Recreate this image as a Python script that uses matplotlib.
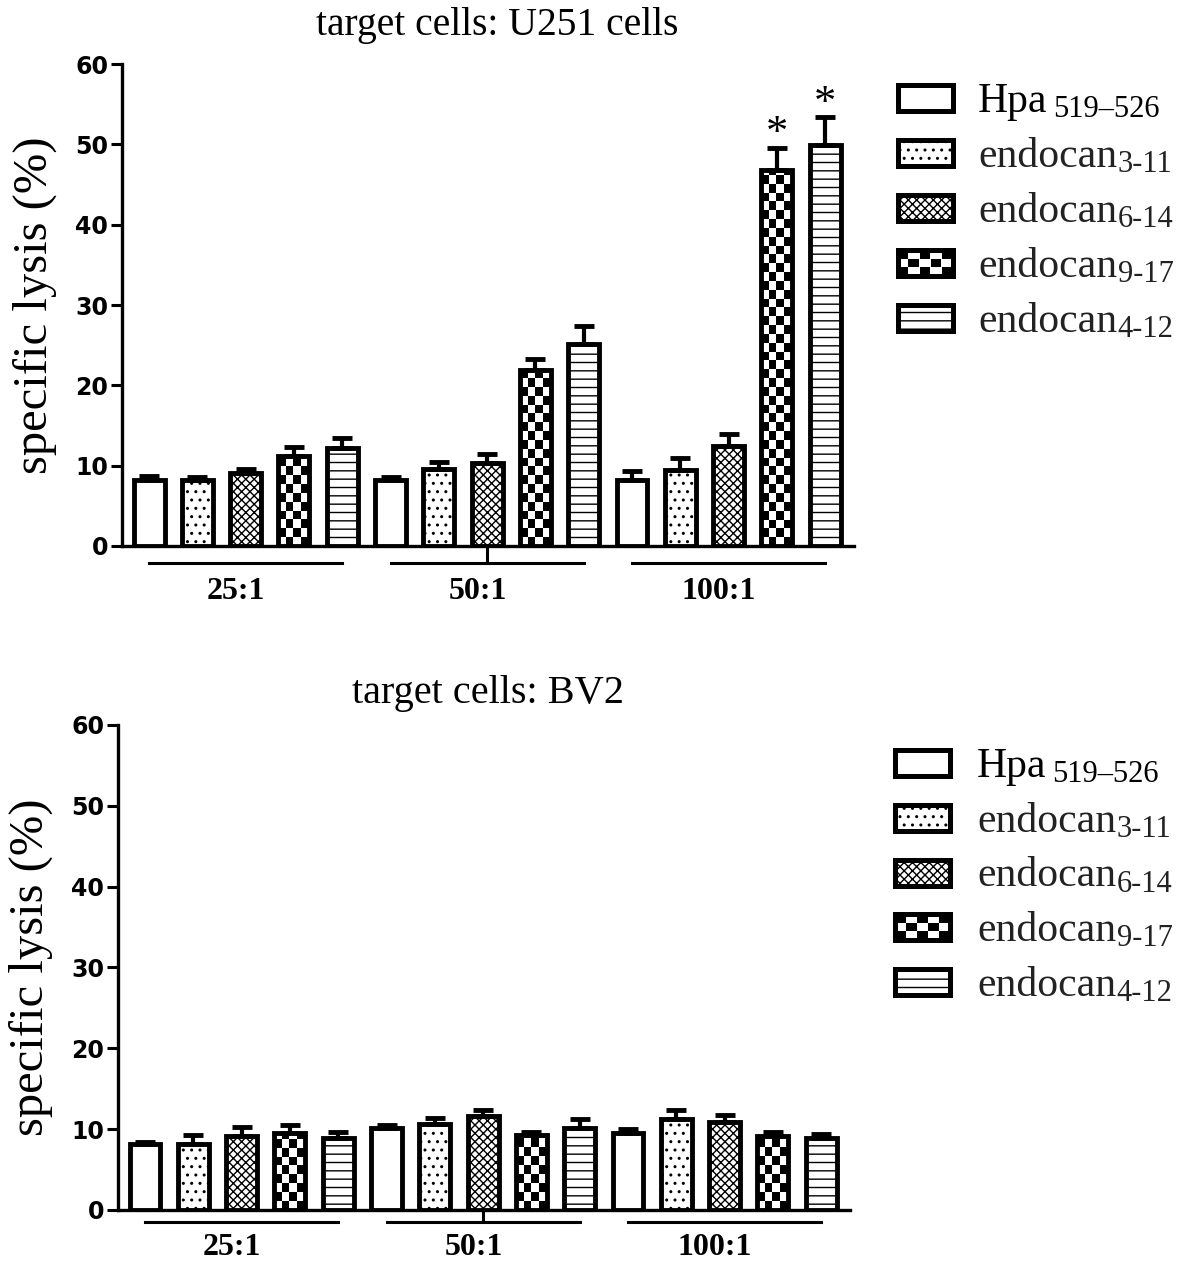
import matplotlib.pyplot as plt
import numpy as np
from matplotlib.patches import Rectangle

plt.rcParams['hatch.linewidth'] = 1.0

# data (specific lysis %, mean and upper error)
groups = ['25:1', '50:1', '100:1']
label_main = ['Hpa', 'endocan', 'endocan', 'endocan', 'endocan']
label_sub = ['519–526', '3-11', '6-14', '9-17', '4-12']

# U251 cells
hpa_u251 = [8.2, 8.2, 8.2]
hpa_u251_err = [0.5, 0.4, 1.1]
e311_u251 = [8.2, 9.6, 9.5]
e311_u251_err = [0.4, 0.8, 1.4]
e614_u251 = [9.1, 10.3, 12.5]
e614_u251_err = [0.5, 1.1, 1.5]
e917_u251 = [11.2, 21.9, 46.8]
e917_u251_err = [1.1, 1.4, 2.8]
e412_u251 = [12.2, 25.2, 49.9]
e412_u251_err = [1.2, 2.2, 3.5]
stars_u251 = [(2, 3), (2, 4)]  # (group, peptide)

# BV2 cells
hpa_bv2 = [8.1, 10.2, 9.5]
hpa_bv2_err = [0.3, 0.3, 0.5]
e311_bv2 = [8.1, 10.6, 11.2]
e311_bv2_err = [1.2, 0.8, 1.2]
e614_bv2 = [9.1, 11.6, 10.9]
e614_bv2_err = [1.2, 0.8, 0.8]
e917_bv2 = [9.5, 9.3, 9.2]
e917_bv2_err = [1.0, 0.4, 0.4]
e412_bv2 = [8.9, 10.2, 8.9]
e412_bv2_err = [0.7, 1.0, 0.5]
stars_bv2 = []

hatches = ['', '..', 'xxxx', 'checker', '--']
serif = 'Liberation Serif'
W, H = 1181, 1263


def fx(px):
    return px / W


def fy(py):
    return 1 - py / H


def draw_legend(fig, ax, centers, box_x0, box_x1, text_x):
    bh = 26
    for s, cy in enumerate(centers):
        x0, y0 = fx(box_x0), fy(cy + bh / 2)
        w, h = fx(box_x1) - fx(box_x0), fy(cy - bh / 2) - fy(cy + bh / 2)
        if hatches[s] == 'checker':
            ncol, nrow = 5, 3
            for i in range(ncol):
                for j in range(nrow):
                    if (i + j) % 2 == 0:
                        fig.add_artist(Rectangle((x0 + i * w / ncol, y0 + j * h / nrow),
                                                 w / ncol, h / nrow, facecolor='black',
                                                 edgecolor='none', transform=fig.transFigure))
            fig.add_artist(Rectangle((x0, y0), w, h, facecolor='none', edgecolor='black',
                                     lw=3.6, transform=fig.transFigure))
        else:
            fig.add_artist(Rectangle((x0, y0), w, h, facecolor='white', edgecolor='black',
                                     lw=3.6, hatch=hatches[s], transform=fig.transFigure))
        col = 'black' if s == 0 else '#222222'
        t = fig.text(fx(text_x), fy(cy + 14), label_main[s], family=serif,
                     fontsize=30, va='baseline', ha='left', color=col)
        dx = 4 if s == 0 else 0.5
        ax.annotate(label_sub[s], xy=(1, 0), xycoords=t, xytext=(dx, -2.5),
                    textcoords='offset points', va='bottom', ha='left',
                    family=serif, fontsize=22, color=col, annotation_clip=False)


def draw_panel(ax, means, errs, stars, line_y, label_y, tick_len):
    width = 0.64
    for s in range(5):
        x = np.arange(3) * 5 + s
        m = np.array(means[s])
        e = np.array(errs[s])
        if hatches[s] == 'checker':
            bars = ax.bar(x, m, width, facecolor='none', edgecolor='black',
                          linewidth=3.5, zorder=3)
            cell = 1.1
            for r in bars:
                h = r.get_height()
                nrows = int(np.ceil(h / cell))
                arr = np.add.outer(np.arange(nrows), np.arange(4)) % 2
                im = ax.imshow(arr, cmap='gray_r', vmin=0, vmax=1,
                               extent=(r.get_x(), r.get_x() + r.get_width(), 0, nrows * cell),
                               origin='lower', aspect='auto',
                               interpolation='nearest', zorder=2.5)
                im.set_clip_path(r)
        else:
            ax.bar(x, m, width, facecolor='white', edgecolor='black',
                   linewidth=3.5, hatch=hatches[s], zorder=3)
        ax.errorbar(x, m, yerr=[np.zeros_like(e), e], fmt='none', ecolor='black',
                    elinewidth=3, capsize=7, capthick=3.5, zorder=4)

    for g, s in stars:
        ax.text(g * 5 + s, means[s][g] + errs[s][g] + 0.3, '*', ha='center',
                va='baseline', fontsize=32, family=serif, zorder=5)

    ax.set_xlim(-0.56, 14.6)
    ax.set_ylim(0, 60)
    ax.spines['top'].set_visible(False)
    ax.spines['right'].set_visible(False)
    ax.spines['left'].set_linewidth(2.4)
    ax.spines['bottom'].set_linewidth(2.4)
    ax.set_yticks(range(0, 61, 10))
    ax.tick_params(axis='y', length=8, width=2.2, pad=2)
    for t in ax.get_yticklabels():
        t.set_fontfamily('DejaVu Sans')
        t.set_fontweight('bold')
        t.set_fontsize(17)
    ax.set_xticks([7])
    ax.set_xticklabels([''])
    ax.tick_params(axis='x', length=tick_len, width=2.2)

    trans = ax.get_xaxis_transform()
    for g in range(3):
        ax.plot([g * 5, g * 5 + 4], [line_y, line_y], transform=trans,
                color='black', lw=2.2, clip_on=False)
        ax.text(g * 5 + 1.8, label_y, groups[g], transform=trans, ha='center',
                va='center', family=serif, fontweight='bold', fontsize=23)

    ax.set_ylabel('specific lysis (%)', family=serif, fontsize=35)
    ax.yaxis.set_label_coords(-0.089, 0.5)


fig = plt.figure(figsize=(11.81, 12.63), dpi=100)
ax1 = fig.add_axes([0.1033, 0.5677, 0.620, 0.3816])
ax2 = fig.add_axes([0.0999, 0.0420, 0.620, 0.384])

draw_panel(ax1,
           [hpa_u251, e311_u251, e614_u251, e917_u251, e412_u251],
           [hpa_u251_err, e311_u251_err, e614_u251_err, e917_u251_err, e412_u251_err],
           stars_u251, -0.035, -0.095, 11.5)
draw_panel(ax2,
           [hpa_bv2, e311_bv2, e614_bv2, e917_bv2, e412_bv2],
           [hpa_bv2_err, e311_bv2_err, e614_bv2_err, e917_bv2_err, e412_bv2_err],
           stars_bv2, -0.025, -0.078, 8.6)

draw_legend(fig, ax1, [98, 153, 208, 263, 318], 897.5, 952.5, 978)
draw_legend(fig, ax2, [763, 818, 872.5, 927, 982], 895.5, 949.5, 977)

fig.text(497 / W, fy(25), 'target cells: U251 cells', ha='center',
         va='center', family=serif, fontsize=28.5)
fig.text(488 / W, fy(694), 'target cells: BV2', ha='center',
         va='center', family=serif, fontsize=29)

fig.savefig('out.png', dpi=100)
